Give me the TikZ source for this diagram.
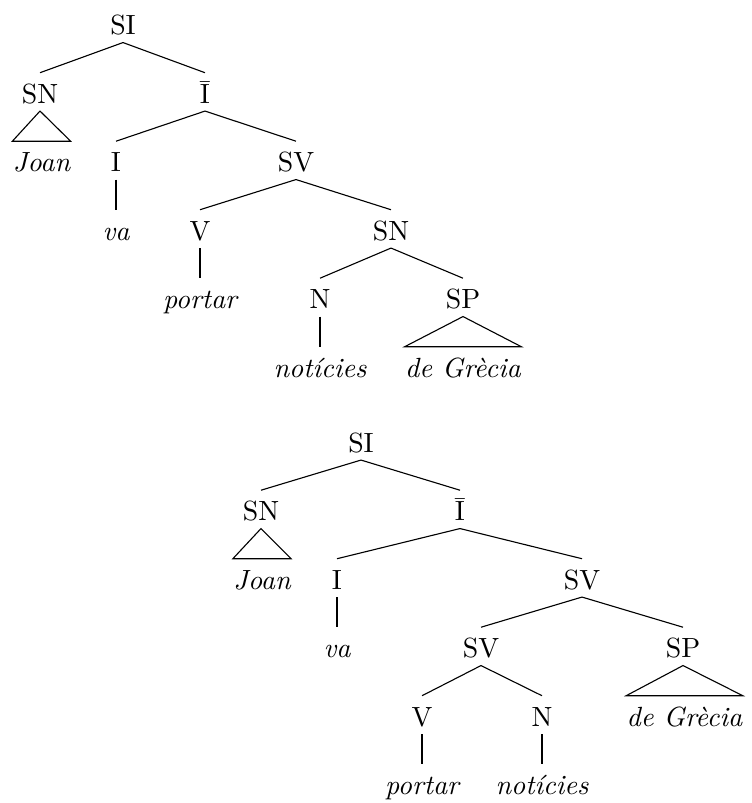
\documentclass[tikz,border=0pt]{standalone}
\usepackage{fontspec}
\usepackage{tikz}

\tikzset{
	cat/.style={anchor=base, inner sep=2.7pt, text height=8pt, text depth=0pt},
	leaf/.style={cat, font=\itshape, inner xsep=0pt},
}

\begin{document}
\begin{tikzpicture}[x=0.36pt, y=-0.36pt]
		\useasboundingbox (0,0) rectangle (751,803);
		
		% first tree: SV -> V SN
		\node[cat] at (123, 34.5)   (a-si) {SI};
		\node[cat] at (40, 103)     (a-sn) {SN};
		\node[cat] at (205, 103)    (a-ib) {\={I}};
		\node[leaf] at (41.5, 171.5) (a-joan) {Joan};
		\node[cat] at (116, 171.5)  (a-i) {I};
		\node[cat] at (296, 171.5)  (a-sv) {SV};
		\node[leaf] at (116, 240)   (a-va) {va};
		\node[cat] at (200, 240)    (a-v) {V};
		\node[cat] at (391, 240)    (a-snn) {SN};
		\node[leaf] at (200, 308.5) (a-portar) {portar};
		\node[cat] at (320, 308.5)  (a-n) {N};
		\node[cat] at (463, 308.5)  (a-sp) {SP};
		\node[leaf] at (320, 377)   (a-not) {notícies};
		\node[leaf] at (463, 377)   (a-gr) {de Grècia};
		
		\draw (a-si.south) -- (a-sn.north);
		\draw (a-si.south) -- (a-ib.north);
		\draw (a-ib.south) -- (a-i.north);
		\draw (a-ib.south) -- (a-sv.north);
		\draw (a-sv.south) -- (a-v.north);
		\draw (a-sv.south) -- (a-snn.north);
		\draw (a-snn.south) -- (a-n.north);
		\draw (a-snn.south) -- (a-sp.north);
		\draw (a-i.south) -- (a-va.north);
		\draw (a-v.south) -- (a-portar.north);
		\draw (a-n.south) -- (a-not.north);
		\draw (a-sn.south) -- (a-joan.north west) -- (a-joan.north east) -- cycle;
		\draw (a-sp.south) -- (a-gr.north west) -- (a-gr.north east) -- cycle;
		
		% second tree: SV -> SV SP
		\node[cat] at (361, 452)    (b-si) {SI};
		\node[cat] at (261, 520.5)  (b-sn) {SN};
		\node[cat] at (460, 520.5)  (b-ib) {\={I}};
		\node[leaf] at (262, 589)   (b-joan) {Joan};
		\node[cat] at (337, 589)    (b-i) {I};
		\node[cat] at (582, 589)    (b-sv) {SV};
		\node[leaf] at (337, 657.5) (b-va) {va};
		\node[cat] at (481, 657.5)  (b-svv) {SV};
		\node[cat] at (683, 657.5)  (b-sp) {SP};
		\node[cat] at (422, 726)    (b-v) {V};
		\node[cat] at (542, 726)    (b-n) {N};
		\node[leaf] at (684.5, 726) (b-gr) {de Grècia};
		\node[leaf] at (422, 794.5) (b-portar) {portar};
		\node[leaf] at (542, 794.5) (b-not) {notícies};
		
		\draw (b-si.south) -- (b-sn.north);
		\draw (b-si.south) -- (b-ib.north);
		\draw (b-ib.south) -- (b-i.north);
		\draw (b-ib.south) -- (b-sv.north);
		\draw (b-sv.south) -- (b-svv.north);
		\draw (b-sv.south) -- (b-sp.north);
		\draw (b-svv.south) -- (b-v.north);
		\draw (b-svv.south) -- (b-n.north);
		\draw (b-i.south) -- (b-va.north);
		\draw (b-v.south) -- (b-portar.north);
		\draw (b-n.south) -- (b-not.north);
		\draw (b-sn.south) -- (b-joan.north west) -- (b-joan.north east) -- cycle;
		\draw (b-sp.south) -- (b-gr.north west) -- (b-gr.north east) -- cycle;
	\end{tikzpicture}
\end{document}
